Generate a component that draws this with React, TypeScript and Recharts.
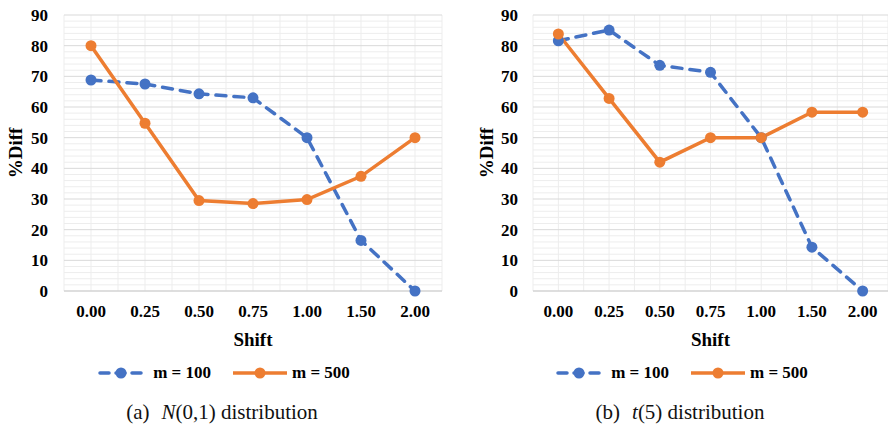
import React from "react";
import {
  LineChart,
  Line,
  XAxis,
  YAxis,
  ReferenceLine,
  Legend,
  Label,
} from "recharts";

const shiftLabels = ["0.00", "0.25", "0.50", "0.75", "1.00", "1.50", "2.00"];
const seriesNames = ["m = 100", "m = 500"];

// (a) N(0,1)
const normalM100 = [68.8, 67.5, 64.3, 63.0, 50.0, 16.5, 0];
const normalM500 = [80.0, 54.7, 29.5, 28.5, 29.8, 37.4, 50.0];

// (b) t(5)
const tM100 = [81.6, 85.1, 73.6, 71.3, 50.0, 14.3, 0];
const tM500 = [83.8, 62.8, 42.0, 50.0, 50.0, 58.3, 58.3];

const majorY = [0, 10, 20, 30, 40, 50, 60, 70, 80, 90];
const minorY = Array.from({ length: 46 }, (_, k) => k * 2).filter((v) => v % 10 !== 0);
const xTicks = shiftLabels.map((_, i) => i);
const xGrid = Array.from({ length: 15 }, (_, k) => k / 2 - 0.5);

const BLUE = "#4472C4";
const ORANGE = "#ED7D31";
const SERIF = '"Liberation Serif", "Times New Roman", serif';

const tickStyle = { fill: "#000", fontFamily: SERIF, fontSize: 17, fontWeight: 700 };

function LegendBox({ payload }: any) {
  return (
    <div style={{ display: "flex", justifyContent: "center", alignItems: "center" }}>
      {(payload || []).map((entry: any, i: number) => {
        const dashed = !!(entry.payload && entry.payload.strokeDasharray);
        return (
          <div key={i} style={{ display: "flex", alignItems: "center", marginLeft: i ? 22 : 0 }}>
            <svg width={54} height={14}>
              {dashed ? (
                <line x1={6} y1={7} x2={50} y2={7} stroke={entry.color} strokeWidth={3.5}
                  strokeDasharray="9 7" strokeLinecap="round" />
              ) : (
                <line x1={0} y1={7} x2={54} y2={7} stroke={entry.color} strokeWidth={3.5} />
              )}
              <circle cx={27} cy={7} r={5.5} fill={entry.color} />
            </svg>
            <span style={{ marginLeft: 5, fontFamily: SERIF, fontSize: 17, fontWeight: 700, color: "#000" }}>
              {entry.value}
            </span>
          </div>
        );
      })}
    </div>
  );
}

function Panel(props: any) {
  const { m100, m500, yAxisWidth, yTickGap, yTitleX, rightMargin, boxLeft, caption } = props;
  const data = shiftLabels.map((s, i) => ({ i, shift: s, m100: m100[i], m500: m500[i] }));

  const yTitle = (p: any) => {
    const vb = p.viewBox;
    const cy = vb.y + vb.height / 2;
    return (
      <text x={yTitleX} y={cy} transform={`rotate(-90, ${yTitleX}, ${cy})`} textAnchor="middle"
        dominantBaseline="central" fontFamily={SERIF} fontSize={19} fontWeight={700} fill="#000">
        %Diff
      </text>
    );
  };
  const xTitle = (p: any) => {
    const vb = p.viewBox;
    return (
      <text x={vb.x + vb.width / 2} y={vb.y + 55} textAnchor="middle" fontFamily={SERIF}
        fontSize={19} fontWeight={700} fill="#000">
        Shift
      </text>
    );
  };

  return (
    <div style={{ position: "relative", width: 444, height: 426 }}>
      <LineChart width={444} height={426} data={data}
        margin={{ top: 15, right: rightMargin, bottom: 105, left: 0 }}>
        {minorY.map((v) => (
          <ReferenceLine key={"my" + v} y={v} stroke="#ededed" strokeWidth={1} />
        ))}
        {xGrid.map((v) => (
          <ReferenceLine key={"vx" + v} x={v} stroke="#ededed" strokeWidth={1} />
        ))}
        {majorY.map((v) => (
          <ReferenceLine key={"My" + v} y={v} stroke="#d9d9d9" strokeWidth={1} />
        ))}
        <XAxis dataKey="i" type="number" domain={[-0.5, 6.5]} ticks={xTicks} interval={0}
          allowDataOverflow tickFormatter={(v: number) => shiftLabels[v]} tickLine={false}
          tickSize={0} tickMargin={14} height={30} axisLine={{ stroke: "#d0d0d0" }} tick={tickStyle}>
          <Label content={xTitle} />
        </XAxis>
        <YAxis domain={[0, 90]} ticks={majorY} interval={0} width={yAxisWidth} axisLine={false}
          tickLine={false} tickSize={0} tickMargin={yTickGap} tick={tickStyle}>
          <Label content={yTitle} />
        </YAxis>
        <Line dataKey="m100" name={seriesNames[0]} stroke={BLUE} strokeWidth={3.5}
          strokeDasharray="10 8" strokeLinecap="round"
          dot={{ r: 5.5, fill: BLUE, stroke: BLUE, strokeWidth: 0 }} isAnimationActive={false} />
        <Line dataKey="m500" name={seriesNames[1]} stroke={ORANGE} strokeWidth={3.5}
          dot={{ r: 5.5, fill: ORANGE, stroke: ORANGE, strokeWidth: 0 }} isAnimationActive={false} />
        <Legend verticalAlign="middle" layout="horizontal" content={LegendBox}
          wrapperStyle={{ top: 363, left: boxLeft, width: 444, height: 20 }} />
      </LineChart>
      <div style={{ position: "absolute", top: 402, left: boxLeft, width: 444, textAlign: "center",
        fontFamily: SERIF, fontSize: 21, lineHeight: "21px", color: "#111", whiteSpace: "nowrap" }}>
        {caption}
      </div>
    </div>
  );
}

export default function App() {
  return (
    <div style={{ position: "absolute", left: 0, top: 0, width: 888, height: 426, background: "#fff", display: "flex" }}>
      <Panel m100={normalM100} m500={normalM500} yAxisWidth={64} yTickGap={16} yTitleX={15}
        rightMargin={2} boxLeft={0}
        caption={<><span>(a)</span><span style={{ marginLeft: 12 }}><i>N</i>(0,1) distribution</span></>} />
      <Panel m100={tM100} m500={tM500} yAxisWidth={89} yTickGap={15} yTitleX={42}
        rightMargin={0} boxLeft={14}
        caption={<><span>(b)</span><span style={{ marginLeft: 12 }}><i>t</i>(5) distribution</span></>} />
    </div>
  );
}
